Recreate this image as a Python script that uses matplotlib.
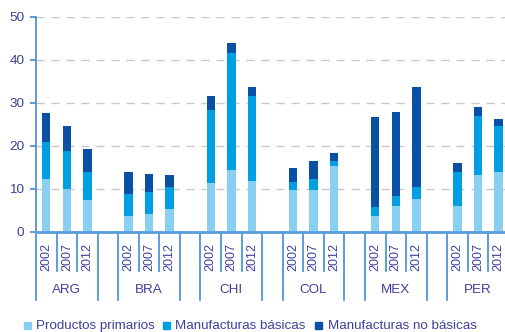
import numpy as np
import matplotlib.pyplot as plt
from matplotlib.patches import Rectangle

plt.rcParams['font.family'] = ['Liberation Sans', 'DejaVu Sans']

paises = ['ARG', 'BRA', 'CHI', 'COL', 'MEX', 'PER']
anios = ['2002', '2007', '2012']

# acumulados por nivel (primarios, +basicas, +no basicas)
primarios = [12.3, 9.9, 7.4, 3.7, 4.1, 5.3, 11.3, 14.4, 11.8,
             9.7, 9.7, 15.3, 3.6, 6.0, 7.6, 6.0, 13.2, 13.9]
hasta_basicas = [20.9, 18.8, 13.9, 8.8, 9.2, 10.4, 28.3, 41.6, 31.6,
                 11.6, 12.3, 16.4, 5.7, 8.3, 10.4, 13.9, 26.9, 24.6]
total = [27.6, 24.6, 19.2, 13.9, 13.4, 13.2, 31.6, 43.9, 33.6,
         14.8, 16.4, 18.3, 26.7, 27.8, 33.6, 16.0, 29.0, 26.2]

basicas = np.array(hasta_basicas) - np.array(primarios)
no_basicas = np.array(total) - np.array(hasta_basicas)

series = ['Productos primarios', 'Manufacturas básicas', 'Manufacturas no básicas']
colores = ['#88CFF1', '#009EE2', '#0A51A6']
texto = '#3F3F9C'
eje = '#3F8CD9'

fig = plt.figure(figsize=(5.06, 3.32), dpi=100)
ax = fig.add_axes([36 / 506, 1 - 231.7 / 332, 1 - 36 / 506, (231.7 - 16.7) / 332])

x = np.array([g * 4 + j for g in range(len(paises)) for j in range(len(anios))])
w = 0.41
ax.bar(x, primarios, w, color=colores[0], zorder=2)
ax.bar(x, basicas, w, bottom=primarios, color=colores[1], zorder=2)
ax.bar(x, no_basicas, w, bottom=hasta_basicas, color=colores[2], zorder=2)

ax.set_xlim(-0.5, 22.36)
ax.set_ylim(0, 50)
ax.set_yticks(range(0, 51, 10))
ax.tick_params(axis='y', colors=eje, length=4, width=1.2, pad=4.3,
               labelsize=9.7, labelcolor=texto)
ax.set_xticks([])

for v in range(10, 51, 10):
    ax.axhline(v, color='#C8C8C8', lw=1, dashes=(5.8, 5), zorder=0)

for s in ['top', 'right']:
    ax.spines[s].set_visible(False)
ax.spines['left'].set_color(eje)
ax.spines['left'].set_linewidth(1.2)
ax.spines['bottom'].set_color('#5A9BDB')
ax.spines['bottom'].set_linewidth(2)
ax.spines['bottom'].set_zorder(3)

# separadores y etiquetas del eje x
tr = ax.get_xaxis_transform()
for g, p in enumerate(paises):
    base = g * 4
    for k, b in enumerate([base - 0.5, base + 0.5, base + 1.5, base + 2.5]):
        fondo = -0.318 if k in (0, 3) else -0.183
        ax.plot([b, b], [0, fondo], transform=tr, color=eje, lw=1.2, clip_on=False)
    for j, a in enumerate(anios):
        ax.text(base + j, -0.116, a, transform=tr, rotation=90, ha='center',
                va='center', fontsize=9, color=texto)
    ax.text(base + 1, -0.271, p, transform=tr, ha='center', va='center',
            fontsize=9.6, color=texto)

# leyenda
pos_cuadro = [24, 163, 315]
pos_texto = [36, 175, 328]
for nombre, c, xc, xt in zip(series, colores, pos_cuadro, pos_texto):
    fig.patches.append(Rectangle((xc / 506, 1 - 329 / 332), 7 / 506, 7 / 332,
                                 transform=fig.transFigure, color=c))
    fig.text(xt / 506, 1 - 328.8 / 332, nombre, ha='left', va='baseline',
             fontsize=9.6, color=texto)

fig.savefig('out.png', dpi=100)
